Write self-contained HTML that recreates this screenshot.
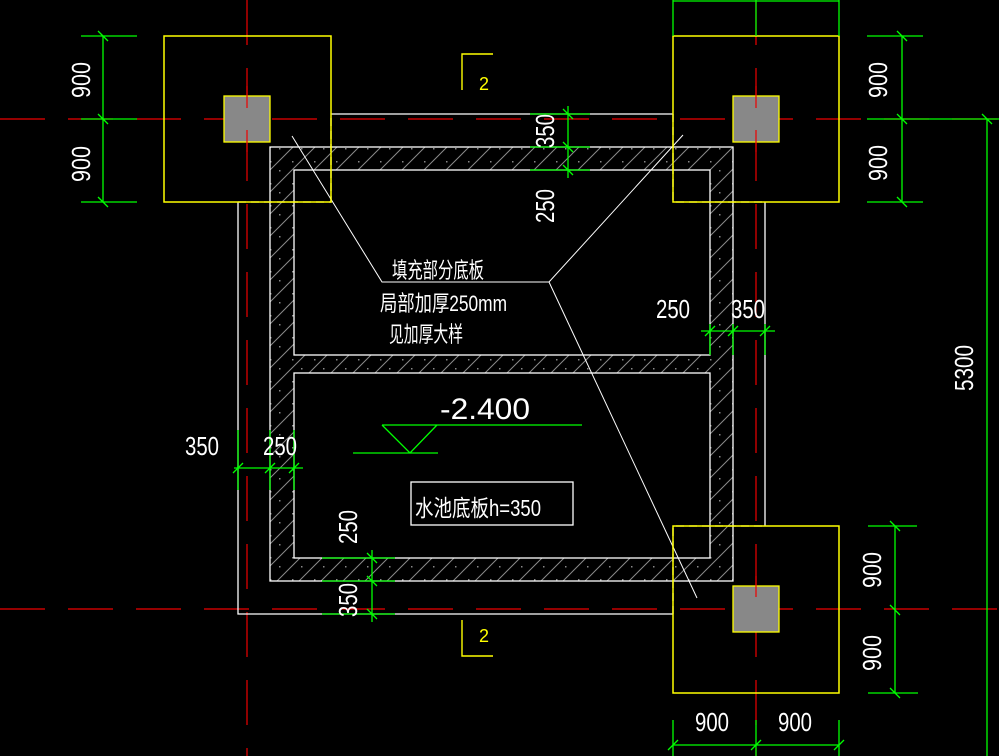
<!DOCTYPE html>
<html><head><meta charset="utf-8"><style>
html,body{margin:0;padding:0;background:#000;width:999px;height:756px;overflow:hidden}
svg{display:block}
text{font-family:"Liberation Sans","Noto Sans CJK SC",sans-serif;fill:#fff}
</style></head><body>
<svg width="999" height="756" viewBox="0 0 999 756" xmlns="http://www.w3.org/2000/svg">
<defs>
<pattern id="h" patternUnits="userSpaceOnUse" width="22" height="22">
<path d="M-2,24 L24,-2 M-13,13 L13,-13 M9,35 L35,9" stroke="#8a8a8a" stroke-width="1"/>
<rect x="6" y="7" width="1.5" height="1.5" fill="#888"/>
<rect x="15" y="16" width="1.5" height="1.5" fill="#888"/>
</pattern>
</defs>
<rect width="999" height="756" fill="#000"/>
<g stroke="#e00" stroke-width="1.2" fill="none" stroke-dasharray="45,23">
<line x1="0" y1="119" x2="999" y2="119"/>
<line x1="0" y1="609" x2="999" y2="609"/>
<line x1="247" y1="0" x2="247" y2="756"/>
<line x1="756" y1="0" x2="756" y2="756"/>
</g>
<path d="M270,147 H733 V581 H270 Z M294,170 V355 H710 V170 Z M294,373 V558 H710 V373 Z" fill="url(#h)" fill-rule="evenodd"/>
<g stroke="#fff" stroke-width="1.3" fill="none">
<rect x="270" y="147" width="463" height="434"/>
<rect x="294" y="170" width="416" height="185"/>
<rect x="294" y="373" width="416" height="185"/>
<path d="M331,114 H673"/>
<path d="M238,202 V614 H673"/>
<path d="M765,202 V526"/>
</g>
<g stroke="#fff" stroke-width="1.3" fill="none" stroke-dasharray="8,5">
<path d="M238,202 H331 V114"/>
<path d="M673,114 V202 H765"/>
<path d="M673,614 V526 H765"/>
</g>
<g stroke="#fff" stroke-width="1" fill="none">
<path d="M292,136 L382,282 H549 L683,135"/>
<path d="M549,282 L697,598"/>
</g>
<g stroke="#ff0" stroke-width="1.5" fill="none">
<rect x="164" y="36" width="167" height="166"/>
<rect x="673" y="36" width="166" height="166"/>
<rect x="673" y="526" width="166" height="167"/>
</g>
<g stroke="#ff0" stroke-width="1.3" fill="#888">
<rect x="224" y="96" width="46" height="46"/>
<rect x="733" y="96" width="46" height="46"/>
<rect x="733" y="586" width="46" height="46"/>
</g>
<g stroke="#e00" stroke-width="1.2">
<line x1="247" y1="86" x2="247" y2="108"/><line x1="247" y1="130" x2="247" y2="152"/>
<line x1="756" y1="86" x2="756" y2="108"/><line x1="756" y1="130" x2="756" y2="152"/>
<line x1="756" y1="576" x2="756" y2="597"/>
</g>
<g stroke="#0f0" stroke-width="1.3" fill="none">
<path d="M103,36 V202 M81,36 H137 M81,119 H137 M81,202 H137"/>
<path d="M98,31 l10,10 M98,114 l10,10 M98,197 l10,10"/>
<path d="M673,1 H839 M673,0 V36 M756,0 V36 M839,0 V36"/>
<path d="M902,36 V202 M867,36 H923 M867,119 H999 M867,202 H923"/>
<path d="M897,31 l10,10 M897,114 l10,10 M897,197 l10,10 M982,114 l10,10"/>
<path d="M987,119 V756"/>
<path d="M895,526 V693 M868,526 H917 M868,693 H918"/>
<path d="M890,521 l10,10 M890,688 l10,10 M890,605 l10,10"/>
<path d="M673,745 H839 M673,720 V756 M756,720 V756 M839,720 V756"/>
<path d="M668,750 l10,-10 M751,750 l10,-10 M834,750 l10,-10"/>
<path d="M568,106 V178 M530,114 H590 M530,147 H590 M530,170 H590"/>
<path d="M563,109 l10,10 M563,142 l10,10 M563,165 l10,10"/>
<path d="M701,331 H775 M710,324 V355 M733,324 V355 M765,324 V355"/>
<path d="M705,336 l10,-10 M728,336 l10,-10 M760,336 l10,-10"/>
<path d="M234,468 H303 M238,430 V490 M270,430 V490 M294,430 V490"/>
<path d="M233,473 l10,-10 M265,473 l10,-10 M289,473 l10,-10"/>
<path d="M372,550 V622 M322,558 H395 M322,581 H395 M322,614 H395"/>
<path d="M367,553 l10,10 M367,576 l10,10 M367,609 l10,10"/>
<path d="M382,425 H582 M382,425 L410,453 L437,425 M353,453 H438"/>
</g>
<g stroke="#ff0" stroke-width="1.4" fill="none">
<path d="M462,90 V54 H493"/>
<path d="M462,620 V656 H493"/>
</g>
<text x="479" y="90" font-size="18" textLength="10" lengthAdjust="spacingAndGlyphs" style="fill:#ff0">2</text>
<text x="479" y="642" font-size="18" textLength="10" lengthAdjust="spacingAndGlyphs" style="fill:#ff0">2</text>
<g font-size="26">
<text transform="translate(90,80) rotate(-90)" text-anchor="middle" textLength="36" lengthAdjust="spacingAndGlyphs">900</text>
<text transform="translate(90,164) rotate(-90)" text-anchor="middle" textLength="36" lengthAdjust="spacingAndGlyphs">900</text>
<text transform="translate(887,80) rotate(-90)" text-anchor="middle" textLength="36" lengthAdjust="spacingAndGlyphs">900</text>
<text transform="translate(887,163) rotate(-90)" text-anchor="middle" textLength="36" lengthAdjust="spacingAndGlyphs">900</text>
<text transform="translate(881,570) rotate(-90)" text-anchor="middle" textLength="36" lengthAdjust="spacingAndGlyphs">900</text>
<text transform="translate(881,653) rotate(-90)" text-anchor="middle" textLength="36" lengthAdjust="spacingAndGlyphs">900</text>
<text transform="translate(973,368) rotate(-90)" text-anchor="middle" textLength="46" lengthAdjust="spacingAndGlyphs">5300</text>
<text x="712" y="731" text-anchor="middle" textLength="34" lengthAdjust="spacingAndGlyphs">900</text>
<text x="795" y="731" text-anchor="middle" textLength="34" lengthAdjust="spacingAndGlyphs">900</text>
<text transform="translate(554,131) rotate(-90)" text-anchor="middle" textLength="34" lengthAdjust="spacingAndGlyphs">350</text>
<text transform="translate(554,206) rotate(-90)" text-anchor="middle" textLength="34" lengthAdjust="spacingAndGlyphs">250</text>
<text x="673" y="318" text-anchor="middle" textLength="34" lengthAdjust="spacingAndGlyphs">250</text>
<text x="748" y="318" text-anchor="middle" textLength="34" lengthAdjust="spacingAndGlyphs">350</text>
<text x="202" y="455" text-anchor="middle" textLength="34" lengthAdjust="spacingAndGlyphs">350</text>
<text x="280" y="455" text-anchor="middle" textLength="34" lengthAdjust="spacingAndGlyphs">250</text>
<text transform="translate(357,527) rotate(-90)" text-anchor="middle" textLength="34" lengthAdjust="spacingAndGlyphs">250</text>
<text transform="translate(357,600) rotate(-90)" text-anchor="middle" textLength="34" lengthAdjust="spacingAndGlyphs">350</text>
</g>
<text x="485" y="419" font-size="30" text-anchor="middle" textLength="90" lengthAdjust="spacingAndGlyphs">-2.400</text>
<rect x="411" y="482" width="162" height="43" stroke="#fff" stroke-width="1.3" fill="none"/>
<text x="415" y="516" font-size="23" textLength="126" lengthAdjust="spacingAndGlyphs">水池底板h=350</text>
<g font-size="22">
<text x="392" y="278" textLength="92" lengthAdjust="spacingAndGlyphs">填充部分底板</text>
<text x="380" y="311" textLength="127" lengthAdjust="spacingAndGlyphs">局部加厚250mm</text>
<text x="389" y="342" textLength="74" lengthAdjust="spacingAndGlyphs">见加厚大样</text>
</g>
</svg>
</body></html>
